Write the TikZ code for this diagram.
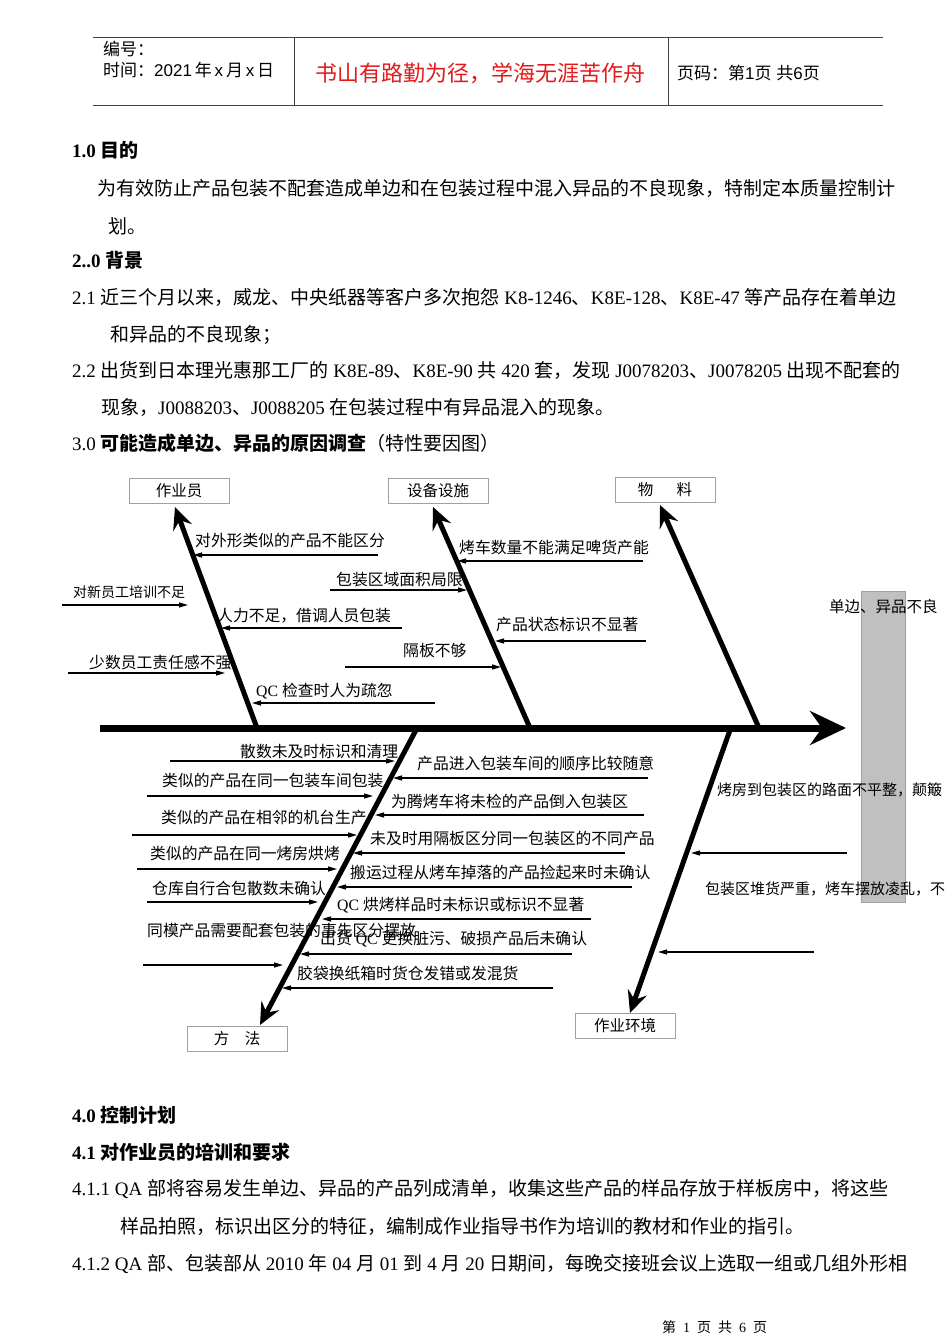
\documentclass[tikz,border=0pt]{standalone}
\usepackage{fontspec}
\setmainfont{Liberation Serif}
\setsansfont{Liberation Sans}
\newfontfamily\zhfont{Noto Sans CJK SC}
\usetikzlibrary{arrows.meta}
\definecolor{rule}{HTML}{404040}
\definecolor{boxline}{HTML}{A0A0A0}
\definecolor{effectfill}{HTML}{C0C0C0}
\definecolor{titlered}{HTML}{E31A1C}
% Chinese characters go to the CJK face, everything else stays in Liberation
\XeTeXinterchartokenstate=1
\newXeTeXintercharclass\zhclass
\newcount\zhcnt
\zhcnt="4E00
\loop
  \XeTeXcharclass\zhcnt=\zhclass
  \ifnum\zhcnt<"9FFF \advance\zhcnt by 1 \repeat
\XeTeXcharclass"3000=\zhclass
\XeTeXcharclass"3001=\zhclass
\XeTeXcharclass"3002=\zhclass
\XeTeXcharclass"FF08=\zhclass
\XeTeXcharclass"FF09=\zhclass
\XeTeXcharclass"FF0C=\zhclass
\XeTeXcharclass"FF1A=\zhclass
\XeTeXcharclass"FF1B=\zhclass
\XeTeXinterchartoks 0 \zhclass = {\begingroup\zhfont}
\XeTeXinterchartoks 4095 \zhclass = {\begingroup\zhfont}
\XeTeXinterchartoks \zhclass 0 = {\endgroup}
\XeTeXinterchartoks \zhclass 4095 = {\endgroup}
\begin{document}
\begin{tikzpicture}[x=1pt,y=-1pt,
  body/.style={font=\fontsize{19}{22}\selectfont,inner sep=0,anchor=base west},
  head/.style={font=\sffamily\fontsize{17}{20}\selectfont,inner sep=0,anchor=base west},
  lab/.style={font=\fontsize{15.8}{18}\selectfont,inner sep=0,anchor=base west},
  cat/.style={draw=boxline,line width=0.9pt,minimum width=100pt,minimum height=25pt,
              inner sep=0,font=\fontsize{15.5}{18}\selectfont},
  spine/.style={line width=7pt,-{Stealth[length=36pt,width=34pt,inset=12pt]}},
  bone/.style={line width=5pt,-{Stealth[length=22pt,width=20pt,inset=8pt]}},
  cause/.style={line width=1.3pt,-{Triangle[length=9pt,width=5pt]}}]
\useasboundingbox (0,0) rectangle (950,1344);
\fill[white] (0,0) rectangle (950,1344);

% page header
\draw[rule,line width=1pt] (93,37.5) -- (883,37.5) (93,105) -- (883,105)
  (294,37.5) -- (294,105) (668,37.5) -- (668,105);
\node[head] (num) at (103,55) {编号：};
\node[head] (date) at (103,76) {时间：2021\,年\,x\,月\,x\,日};
\node[head,font=\sffamily\fontsize{22}{24}\selectfont,text=titlered] (motto) at (315,81) {书山有路勤为径，学海无涯苦作舟};
\node[head] (pg) at (677,79) {页码：第1页 共6页};

% text above the chart
\node[body,font=\bfseries\fontsize{19}{22}\selectfont] (s1) at (72,157) {1.0 目的};
\node[body] (s1a) at (97,195) {为有效防止产品包装不配套造成单边和在包装过程中混入异品的不良现象，特制定本质量控制计};
\node[body] (s1b) at (108,233) {划。};
\node[body,font=\bfseries\fontsize{19}{22}\selectfont] (s2) at (72,267) {2..0 背景};
\node[body] (s21a) at (72,304) {2.1 近三个月以来，威龙、中央纸器等客户多次抱怨 K8-1246、K8E-128、K8E-47 等产品存在着单边};
\node[body] (s21b) at (110,341) {和异品的不良现象；};
\node[body] (s22a) at (72,377) {2.2 出货到日本理光惠那工厂的 K8E-89、K8E-90 共 420 套，发现 J0078203、J0078205 出现不配套的};
\node[body] (s22b) at (101,414) {现象，J0088203、J0088205 在包装过程中有异品混入的现象。};
\node[body] (s3) at (72,450) {3.0 \textbf{可能造成单边、异品的原因调查}（特性要因图）};

% fishbone
\node[draw=boxline,line width=0.8pt,fill=effectfill,minimum width=44pt,minimum height=311pt,inner sep=0] (effect) at (883,746.5) {};
\coordinate (tail) at (100,728);
\coordinate (tip) at (846,728);
\draw[spine] (tail) -- (tip);
\node[lab,font=\fontsize{15.5}{18}\selectfont] (fx) at (829,612) {单边、异品不良};

\node[cat] (opr) at (179,491) {作业员};
\node[cat] (equ) at (438,491) {设备设施};
\node[cat] (mat) at (665,490) {物\hspace{1.5em}料};
\node[cat] (mth) at (237,1039) {方\hspace{1em}法};
\node[cat] (env) at (625,1026) {作业环境};

\coordinate (opr0) at (257,728); \coordinate (opr1) at (175,507);
\coordinate (equ0) at (530,728); \coordinate (equ1) at (433,507);
\coordinate (mat0) at (759,728); \coordinate (mat1) at (660,505);
\coordinate (mth0) at (416,730); \coordinate (mth1) at (260,1025);
\coordinate (env0) at (730,730); \coordinate (env1) at (630,1013);
\draw[bone] (opr0) -- (opr1);
\draw[bone] (equ0) -- (equ1);
\draw[bone] (mat0) -- (mat1);
\draw[bone] (mth0) -- (mth1);
\draw[bone] (env0) -- (env1);

% causes: operators
\node[lab] (o1) at (195,546) {对外形类似的产品不能区分};
\coordinate (o1a) at (378,555); \coordinate (o1b) at (193,555);
\node[lab,font=\fontsize{14}{16}\selectfont] (o2) at (73,597) {对新员工培训不足};
\coordinate (o2a) at (62,605); \coordinate (o2b) at (188,605);
\node[lab] (o3) at (217,621) {人力不足，借调人员包装};
\coordinate (o3a) at (402,628); \coordinate (o3b) at (221,628);
\node[lab] (o4) at (89,668) {少数员工责任感不强};
\coordinate (o4a) at (68,673); \coordinate (o4b) at (225,673);
\node[lab] (o5) at (256,696) {QC 检查时人为疏忽};
\coordinate (o5a) at (435,703); \coordinate (o5b) at (252,703);
\draw[cause] (o1a) -- (o1b);
\draw[cause] (o2a) -- (o2b);
\draw[cause] (o3a) -- (o3b);
\draw[cause] (o4a) -- (o4b);
\draw[cause] (o5a) -- (o5b);

% causes: equipment
\node[lab] (e1) at (459,553) {烤车数量不能满足啤货产能};
\coordinate (e1a) at (643,561); \coordinate (e1b) at (457,561);
\node[lab] (e2) at (336,585) {包装区域面积局限};
\coordinate (e2a) at (330,590); \coordinate (e2b) at (467,590);
\node[lab] (e3) at (496,630) {产品状态标识不显著};
\coordinate (e3a) at (646,641); \coordinate (e3b) at (495,641);
\node[lab] (e4) at (403,656) {隔板不够};
\coordinate (e4a) at (345,667); \coordinate (e4b) at (501,667);
\draw[cause] (e1a) -- (e1b);
\draw[cause] (e2a) -- (e2b);
\draw[cause] (e3a) -- (e3b);
\draw[cause] (e4a) -- (e4b);

% causes: method, left side
\node[lab] (m1) at (240,757) {散数未及时标识和清理};
\coordinate (m1a) at (170,761); \coordinate (m1b) at (395,761);
\node[lab] (m2) at (162,786) {类似的产品在同一包装车间包装};
\coordinate (m2a) at (147,796); \coordinate (m2b) at (373,796);
\node[lab] (m3) at (161,823) {类似的产品在相邻的机台生产};
\coordinate (m3a) at (132,835); \coordinate (m3b) at (357,835);
\node[lab] (m4) at (150,859) {类似的产品在同一烤房烘烤};
\coordinate (m4a) at (137,869); \coordinate (m4b) at (337,869);
\node[lab] (m5) at (152,894) {仓库自行合包散数未确认};
\coordinate (m5a) at (147,902); \coordinate (m5b) at (318,902);
\node[lab] (m6) at (147,936) {同模产品需要配套包装的事先区分摆放};
\coordinate (m6a) at (143,965); \coordinate (m6b) at (283,965);
\draw[cause] (m1a) -- (m1b);
\draw[cause] (m2a) -- (m2b);
\draw[cause] (m3a) -- (m3b);
\draw[cause] (m4a) -- (m4b);
\draw[cause] (m5a) -- (m5b);
\draw[cause] (m6a) -- (m6b);

% causes: method, right side
\node[lab] (m7) at (417,769) {产品进入包装车间的顺序比较随意};
\coordinate (m7a) at (648,778); \coordinate (m7b) at (393,778);
\node[lab] (m8) at (391,807) {为腾烤车将未检的产品倒入包装区};
\coordinate (m8a) at (644,815); \coordinate (m8b) at (375,815);
\node[lab] (m9) at (370,844) {未及时用隔板区分同一包装区的不同产品};
\coordinate (m9a) at (625,853); \coordinate (m9b) at (353,853);
\node[lab] (m10) at (350,878) {搬运过程从烤车掉落的产品捡起来时未确认};
\coordinate (m10a) at (632,887); \coordinate (m10b) at (337,887);
\node[lab] (m11) at (337,910) {QC 烘烤样品时未标识或标识不显著};
\coordinate (m11a) at (591,919); \coordinate (m11b) at (322,919);
\node[lab] (m12) at (320,944) {出货 QC 更换脏污、破损产品后未确认};
\coordinate (m12a) at (572,954); \coordinate (m12b) at (300,954);
\node[lab] (m13) at (297,979) {胶袋换纸箱时货仓发错或发混货};
\coordinate (m13a) at (553,988); \coordinate (m13b) at (282,988);
\draw[cause] (m7a) -- (m7b);
\draw[cause] (m8a) -- (m8b);
\draw[cause] (m9a) -- (m9b);
\draw[cause] (m10a) -- (m10b);
\draw[cause] (m11a) -- (m11b);
\draw[cause] (m12a) -- (m12b);
\draw[cause] (m13a) -- (m13b);

% causes: environment
\node[lab,font=\fontsize{15}{18}\selectfont] (v1) at (717,795) {烤房到包装区的路面不平整，颠簸};
\coordinate (v1a) at (847,853); \coordinate (v1b) at (691,853);
\node[lab,font=\fontsize{15}{18}\selectfont] (v2) at (705,894) {包装区堆货严重，烤车摆放凌乱，不};
\coordinate (v2a) at (814,952); \coordinate (v2b) at (658,952);
\draw[cause] (v1a) -- (v1b);
\draw[cause] (v2a) -- (v2b);

% text below the chart
\node[body,font=\bfseries\fontsize{19}{22}\selectfont] (s4) at (72,1122) {4.0 控制计划};
\node[body,font=\bfseries\fontsize{19}{22}\selectfont] (s41) at (72,1159) {4.1 对作业员的培训和要求};
\node[body] (s411a) at (72,1195) {4.1.1 QA 部将容易发生单边、异品的产品列成清单，收集这些产品的样品存放于样板房中，将这些};
\node[body] (s411b) at (120,1233) {样品拍照，标识出区分的特征，编制成作业指导书作为培训的教材和作业的指引。};
\node[body] (s412) at (72,1270) {4.1.2 QA 部、包装部从 2010 年 04 月 01 到 4 月 20 日期间，每晚交接班会议上选取一组或几组外形相};
\node[body,font=\fontsize{14}{16}\selectfont] (foot) at (662,1332) {第\hspace{.5em}1\hspace{.5em}页\hspace{.5em}共\hspace{.5em}6\hspace{.5em}页};
\end{tikzpicture}
\end{document}
